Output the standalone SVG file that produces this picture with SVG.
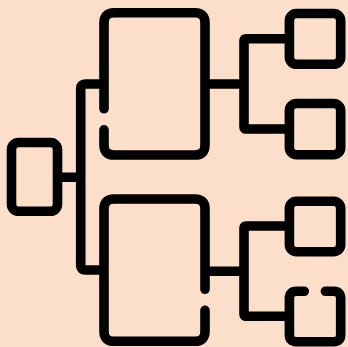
<svg xmlns="http://www.w3.org/2000/svg" width="348" height="347" viewBox="0 0 348 347">
<style>
.s{fill:none;stroke:#000;stroke-width:9.6;stroke-linecap:round;stroke-linejoin:round}
.c{fill:none;stroke:#000;stroke-width:9.6;stroke-linecap:butt;stroke-linejoin:round}
</style>
<rect width="348" height="347" fill="#fcdfcb"/>
<g id="connectors">
<path class="c" d="M57.5 177.3H80.7M104 84H85.2Q80.7 84 80.7 88.5V265.5Q80.7 270 85.2 270H104"/>
<path class="c" d="M205 84H244M289.4 38.7H246Q244 38.7 244 40.7V127Q244 129 246 129H289.4"/>
<path class="c" d="M205 271.3H244M289.4 226H246Q244 226 244 228V314.3Q244 316.3 246 316.3H289.4"/>
</g>
<g id="node-root"><rect class="s" x="11.5" y="142.5" width="46" height="68.8" rx="7"/></g>
<g id="node-top"><path class="s" d="M104 108.8V22.8Q104 12.8 114 12.8H195Q205 12.8 205 22.8V145Q205 155 195 155H114Q104 155 104 145V129.8"/></g>
<g id="node-bottom"><path class="s" d="M205 289.3V209Q205 199 195 199H114Q104 199 104 209V331.3Q104 341.3 114 341.3H195Q205 341.3 205 331.3V310.4"/></g>
<g id="node-leaf-1"><rect class="s" x="289.4" y="13.5" width="51.3" height="50.8" rx="7"/></g>
<g id="node-leaf-2"><rect class="s" x="289.4" y="103.5" width="51.3" height="51.2" rx="7"/></g>
<g id="node-leaf-3"><rect class="s" x="289.4" y="201.3" width="51.3" height="50.4" rx="7"/></g>
<g id="node-leaf-4"><path class="s" d="M304.3 291.3H296.4Q289.4 291.3 289.4 298.3V334.7Q289.4 341.7 296.4 341.7H333.7Q340.7 341.7 340.7 334.7V298.3Q340.7 291.3 333.7 291.3H325.4"/></g>
</svg>
